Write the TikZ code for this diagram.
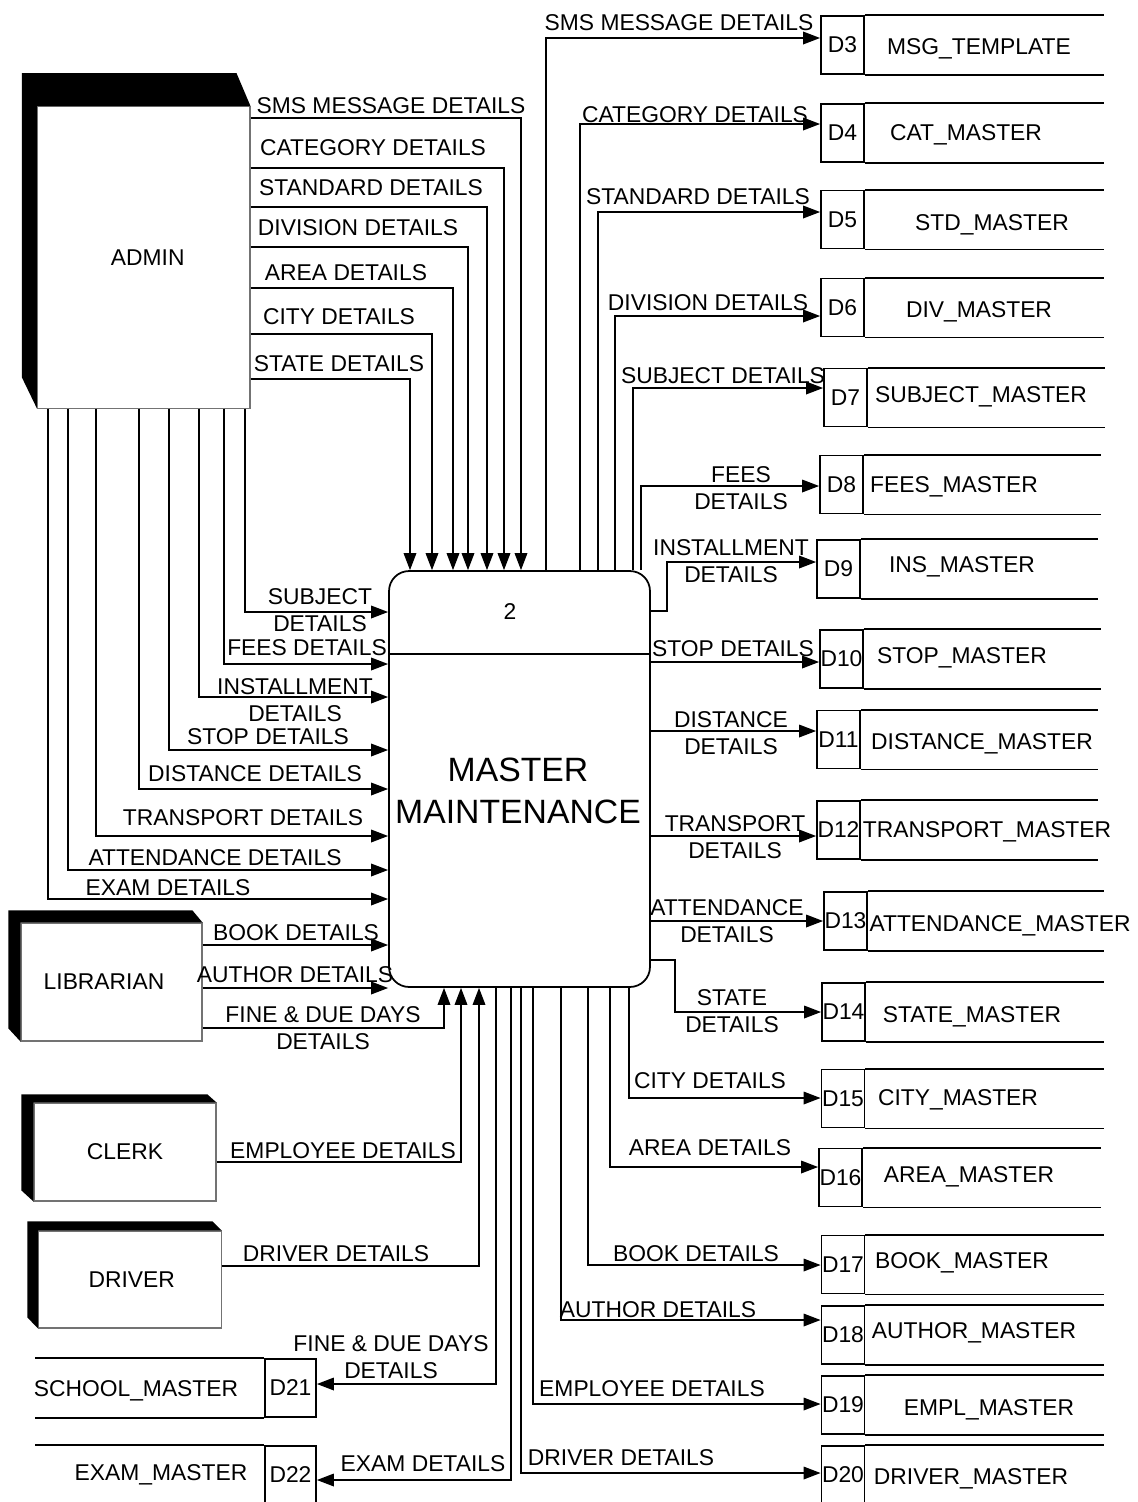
\documentclass[tikz,border=0pt]{standalone}
\usepackage{fontspec}
\setmainfont{Liberation Sans}
\usetikzlibrary{arrows.meta}
\tikzset{
  every picture/.style={line join=miter, >={Triangle[length=0.34cm,width=0.25cm]}},
  flow/.style={->, line width=1pt},
  lbl/.style={font=\fontsize{13}{15}\selectfont, inner sep=0pt, align=center},
  entity/.style={draw=black!55, line width=0.6pt, inner sep=0pt, font=\fontsize{13}{15}\selectfont},
  procbox/.style={draw, line width=1pt, rounded corners=0.4cm, inner sep=0pt},
  dbox/.style={draw, line width=1pt, minimum width=0.86cm, minimum height=1.16cm, inner sep=0pt, font=\fontsize{13}{15}\selectfont},
  dname/.style={font=\fontsize{13}{15}\selectfont, inner sep=0pt, text depth=0pt},
  store/.style={line width=1pt},
}

\begin{document}
\begin{tikzpicture}[x=0.02cm,y=-0.02cm]
\useasboundingbox (0,0) rectangle (1138,1502);

\node[entity, minimum width=4.25cm, minimum height=6.03cm] (admin) at (143.75,257.35) {\hspace*{0.16cm}ADMIN};
\fill ([shift={(-15,-33)}]admin.north west) -- ([shift={(-14,-33)}]admin.north east) -- (admin.north east) -- (admin.north west) -- (admin.south west) -- ([shift={(-15,-31)}]admin.south west) -- cycle;
\node[entity, minimum width=3.62cm, minimum height=2.36cm] (librarian) at (111.5,982) {LIBRARIAN\hspace*{0.3cm}};
\fill ([shift={(-12,-12)}]librarian.north west) -- ([shift={(-10,-12)}]librarian.north east) -- (librarian.north east) -- (librarian.north west) -- (librarian.south west) -- ([shift={(-12,-13)}]librarian.south west) -- cycle;
\node[entity, minimum width=3.64cm, minimum height=1.96cm] (clerk) at (125,1152) {CLERK};
\fill ([shift={(-12,-8)}]clerk.north west) -- ([shift={(-9,-8)}]clerk.north east) -- (clerk.north east) -- (clerk.north west) -- (clerk.south west) -- ([shift={(-12,-11)}]clerk.south west) -- cycle;
\node[entity, minimum width=3.65cm, minimum height=1.94cm] (driver) at (129.8,1279.5) {\hspace*{0.08cm}DRIVER};
\fill ([shift={(-10.6,-9)}]driver.north west) -- ([shift={(-9,-9)}]driver.north east) -- (driver.north east) -- (driver.north west) -- (driver.south west) -- ([shift={(-10.6,-11)}]driver.south west) -- cycle;

\node[procbox, minimum width=5.22cm, minimum height=8.32cm] (proc) at (519.5,779) {};
\draw[line width=1pt] (proc.west |- 0,654) -- (proc.east |- 0,654);
\node[lbl] (procid) at (510,612) {2};
\node[font=\fontsize{19.2}{23.8}\selectfont, align=center, inner sep=0pt] (proctitle) at (518,791) {MASTER\\MAINTENANCE};

\node[dbox] (d3) at (842.5,45) {D3};
\node[dname] (n3) at (979,47) {MSG\_TEMPLATE};
\draw[store] (d3.north east) -- (d3.north east -| 1104,0) (d3.south east) -- (d3.south east -| 1104,0);
\node[dbox] (d4) at (842.5,133) {D4};
\node[dname] (n4) at (966,133) {CAT\_MASTER};
\draw[store] (d4.north east) -- (d4.north east -| 1104,0) (d4.south east) -- (d4.south east -| 1104,0);
\node[dbox] (d5) at (842.5,219.5) {D5};
\node[dname] (n5) at (992,223) {STD\_MASTER};
\draw[store] (d5.north east) -- (d5.north east -| 1104,0) (d5.south east) -- (d5.south east -| 1104,0);
\node[dbox] (d6) at (842.5,307.5) {D6};
\node[dname] (n6) at (979,310) {DIV\_MASTER};
\draw[store] (d6.north east) -- (d6.north east -| 1104,0) (d6.south east) -- (d6.south east -| 1104,0);
\node[dbox] (d7) at (845.5,397.5) {D7};
\node[dname] (n7) at (981,395) {SUBJECT\_MASTER};
\draw[store] (d7.north east) -- (d7.north east -| 1105,0) (d7.south east) -- (d7.south east -| 1105,0);
\node[dbox] (d8) at (841.5,484.5) {D8};
\node[dname] (n8) at (954,485) {FEES\_MASTER};
\draw[store] (d8.north east) -- (d8.north east -| 1101,0) (d8.south east) -- (d8.south east -| 1101,0);
\node[dbox] (d9) at (838.5,569) {D9};
\node[dname] (n9) at (962,565) {INS\_MASTER};
\draw[store] (d9.north east) -- (d9.north east -| 1098,0) (d9.south east) -- (d9.south east -| 1098,0);
\node[dbox] (d10) at (841.5,659) {D10};
\node[dname] (n10) at (962,656) {STOP\_MASTER};
\draw[store] (d10.north east) -- (d10.north east -| 1101,0) (d10.south east) -- (d10.south east -| 1101,0);
\node[dbox] (d11) at (838.5,739.5) {D11};
\node[dname] (n11) at (982,742) {DISTANCE\_MASTER};
\draw[store] (d11.north east) -- (d11.north east -| 1098,0) (d11.south east) -- (d11.south east -| 1098,0);
\node[dbox] (d12) at (838.5,830) {D12};
\node[dname] (n12) at (987,830) {TRANSPORT\_MASTER};
\draw[store] (d12.north east) -- (d12.north east -| 1098,0) (d12.south east) -- (d12.south east -| 1098,0);
\node[dbox] (d13) at (845.5,921) {D13};
\node[dname] (n13) at (1000,924) {ATTENDANCE\_MASTER};
\draw[store] (d13.north east) -- (d13.north east -| 1104,0) (d13.south east) -- (d13.south east -| 1104,0);
\node[dbox] (d14) at (843.5,1012) {D14};
\node[dname] (n14) at (972,1015) {STATE\_MASTER};
\draw[store] (d14.north east) -- (d14.north east -| 1104,0) (d14.south east) -- (d14.south east -| 1104,0);
\node[dbox] (d15) at (843,1098.5) {D15};
\node[dname] (n15) at (958,1098) {CITY\_MASTER};
\draw[store] (d15.north east) -- (d15.north east -| 1104,0) (d15.south east) -- (d15.south east -| 1104,0);
\node[dbox] (d16) at (840.5,1177.5) {D16};
\node[dname] (n16) at (969,1175) {AREA\_MASTER};
\draw[store] (d16.north east) -- (d16.north east -| 1101,0) (d16.south east) -- (d16.south east -| 1101,0);
\node[dbox] (d17) at (843,1264.5) {D17};
\node[dname] (n17) at (962,1261) {BOOK\_MASTER};
\draw[store] (d17.north east) -- (d17.north east -| 1104,0) (d17.south east) -- (d17.south east -| 1104,0);
\node[dbox] (d18) at (843,1335) {D18};
\node[dname] (n18) at (974,1331) {AUTHOR\_MASTER};
\draw[store] (d18.north east) -- (d18.north east -| 1104,0) (d18.south east) -- (d18.south east -| 1104,0);
\node[dbox] (d19) at (843,1405) {D19};
\node[dname] (n19) at (989,1408) {EMPL\_MASTER};
\draw[store] (d19.north east) -- (d19.north east -| 1104,0) (d19.south east) -- (d19.south east -| 1104,0);
\node[dbox] (d20) at (843,1475) {D20};
\node[dname] (n20) at (971,1477) {DRIVER\_MASTER};
\draw[store] (d20.north east) -- (d20.north east -| 1104,0) (d20.south east) -- (d20.south east -| 1104,0);
\node[dbox, minimum width=1.02cm] (d21) at (290.5,1388) {D21};
\node[dname] (n21) at (136,1389) {SCHOOL\_MASTER};
\draw[store] (d21.north west) -- (d21.north west -| 35,0) (d21.south west) -- (d21.south west -| 35,0);
\node[dbox, minimum width=1.02cm] (d22) at (290.5,1475) {D22};
\node[dname] (n22) at (161,1473) {EXAM\_MASTER};
\draw[store] (d22.north west) -- (d22.north west -| 35,0) (d22.south west) -- (d22.south west -| 35,0);

\draw[flow] (admin.east |- 0,118) -| (proc.north -| 521,0);
\draw[flow] (admin.east |- 0,168) -| (proc.north -| 504,0);
\draw[flow] (admin.east |- 0,207) -| (proc.north -| 487,0);
\draw[flow] (admin.east |- 0,247) -| (proc.north -| 468,0);
\draw[flow] (admin.east |- 0,288) -| (proc.north -| 453,0);
\draw[flow] (admin.east |- 0,334) -| (proc.north -| 432,0);
\draw[flow] (admin.east |- 0,379) -| (proc.north -| 410,0);
\node[lbl] (a-sms) at (391,106) {SMS MESSAGE DETAILS};
\node[lbl] (a-cat) at (373,148) {CATEGORY DETAILS};
\node[lbl] (a-std) at (371,188) {STANDARD DETAILS};
\node[lbl] (a-div) at (358,228) {DIVISION DETAILS};
\node[lbl] (a-area) at (346,273) {AREA DETAILS};
\node[lbl] (a-city) at (339,317) {CITY DETAILS};
\node[lbl] (a-state) at (339,364) {STATE DETAILS};

\draw[flow] (admin.south -| 245,0) |- (proc.west |- 0,612);
\draw[flow] (admin.south -| 224,0) |- (proc.west |- 0,664);
\draw[flow] (admin.south -| 199,0) |- (proc.west |- 0,697);
\draw[flow] (admin.south -| 169,0) |- (proc.west |- 0,750);
\draw[flow] (admin.south -| 139,0) |- (proc.west |- 0,789);
\draw[flow] (admin.south -| 96,0) |- (proc.west |- 0,836);
\draw[flow] (admin.south -| 68,0) |- (proc.west |- 0,870);
\draw[flow] (admin.south -| 48,0) |- (proc.west |- 0,899);
\node[lbl] (a-subj) at (320,610) {SUBJECT\\DETAILS};
\node[lbl] (a-fees) at (307,648) {FEES DETAILS};
\node[lbl] (a-ins) at (295,700) {INSTALLMENT\\DETAILS};
\node[lbl] (a-stop) at (268,737) {STOP DETAILS};
\node[lbl] (a-dist) at (255,774) {DISTANCE DETAILS};
\node[lbl] (a-trans) at (243,818) {TRANSPORT DETAILS};
\node[lbl] (a-att) at (215,858) {ATTENDANCE DETAILS};
\node[lbl] (a-exam) at (168,888) {EXAM DETAILS};

\draw[flow] (librarian.east |- 0,945) -- (proc.west |- 0,945);
\draw[flow] (librarian.east |- 0,988) -- (proc.west |- 0,988);
\draw[flow] (librarian.east |- 0,1028) -| (proc.south -| 444,0);
\draw[flow] (clerk.east |- 0,1162) -| (proc.south -| 461,0);
\draw[flow] (driver.east |- 0,1266) -| (proc.south -| 479,0);
\node[lbl] (l-book) at (296,933) {BOOK DETAILS};
\node[lbl] (l-auth) at (295,975) {AUTHOR DETAILS};
\node[lbl] (l-fine) at (323,1028) {FINE \& DUE DAYS\\DETAILS};
\node[lbl] (c-emp) at (343,1151) {EMPLOYEE DETAILS};
\node[lbl] (r-drv) at (336,1254) {DRIVER DETAILS};

\draw[flow] (proc.north -| 546,0) |- (d3.west |- 0,38);
\draw[flow] (proc.north -| 580,0) |- (d4.west |- 0,124);
\draw[flow] (proc.north -| 598,0) |- (d5.west |- 0,212);
\draw[flow] (proc.north -| 615,0) |- (d6.west |- 0,316);
\draw[flow] (proc.north -| 633,0) |- (d7.west |- 0,388);
\draw[flow] (proc.north -| 641,0) |- (d8.west |- 0,486);
\draw[flow] (proc.east |- 0,611) -- ++(16,0) |- (d9.west |- 0,562);
\draw[flow] (proc.east |- 0,662) -- (d10.west |- 0,662);
\draw[flow] (proc.east |- 0,731) -- (d11.west |- 0,731);
\draw[flow] (proc.east |- 0,836) -- (d12.west |- 0,836);
\draw[flow] (proc.east |- 0,921) -- (d13.west |- 0,921);
\draw[flow] (proc.east |- 0,960) -- ++(24,0) |- (d14.west |- 0,1012);
\node[lbl] (o-sms) at (679,23) {SMS MESSAGE DETAILS};
\node[lbl] (o-cat) at (695,115) {CATEGORY DETAILS};
\node[lbl] (o-std) at (698,197) {STANDARD DETAILS};
\node[lbl] (o-div) at (708,303) {DIVISION DETAILS};
\node[lbl] (o-subj) at (723,376) {SUBJECT DETAILS};
\node[lbl] (o-fees) at (741,488) {FEES\\DETAILS};
\node[lbl] (o-ins) at (731,561) {INSTALLMENT\\DETAILS};
\node[lbl] (o-stop) at (733,649) {STOP DETAILS};
\node[lbl] (o-dist) at (731,733) {DISTANCE\\DETAILS};
\node[lbl] (o-trans) at (735,837) {TRANSPORT\\DETAILS};
\node[lbl] (o-att) at (727,921) {ATTENDANCE\\DETAILS};
\node[lbl] (o-state) at (732,1011) {STATE\\DETAILS};

\draw[flow] (proc.south -| 629,0) |- (d15.west |- 0,1098);
\draw[flow] (proc.south -| 610,0) |- (d16.west |- 0,1167);
\draw[flow] (proc.south -| 588,0) |- (d17.west |- 0,1265);
\draw[flow] (proc.south -| 561,0) |- (d18.west |- 0,1320);
\draw[flow] (proc.south -| 533,0) |- (d19.west |- 0,1404);
\draw[flow] (proc.south -| 521,0) |- (d20.west |- 0,1473);
\draw[flow] (proc.south -| 511,0) |- (d22.east |- 0,1480);
\draw[flow] (proc.south -| 496,0) |- (d21.east |- 0,1384);
\node[lbl] (o-city) at (710,1081) {CITY DETAILS};
\node[lbl] (o-area) at (710,1148) {AREA DETAILS};
\node[lbl] (o-book) at (696,1254) {BOOK DETAILS};
\node[lbl] (o-auth) at (658,1310) {AUTHOR DETAILS};
\node[lbl] (o-emp) at (652,1389) {EMPLOYEE DETAILS};
\node[lbl] (o-drv) at (621,1458) {DRIVER DETAILS};
\node[lbl] (o-exam) at (423,1464) {EXAM DETAILS};
\node[lbl] (o-fine) at (391,1357) {FINE \& DUE DAYS\\DETAILS};
\end{tikzpicture}
\end{document}
